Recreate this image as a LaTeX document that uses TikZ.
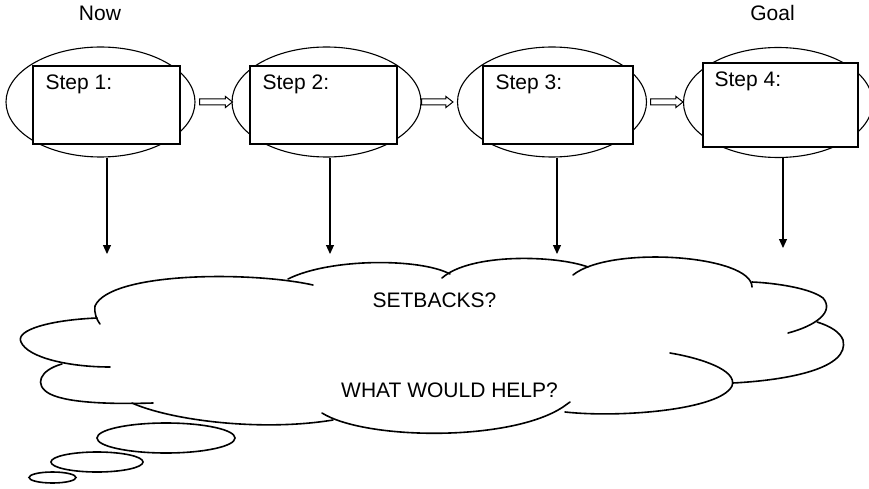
\documentclass[tikz,border=0pt]{standalone}
\usepackage{fontspec}
\setmainfont{Liberation Sans}
\usetikzlibrary{shapes.geometric,arrows.meta,calc}
\begin{document}
\begin{tikzpicture}[x=1pt,y=-1pt,
  every node/.style={font=\fontsize{21}{25}\selectfont, inner sep=0pt},
  stepoval/.style={ellipse, draw, line width=1.1pt, minimum width=189pt, minimum height=110pt},
  stepbox/.style={rectangle, draw, fill=white, line width=1.2pt, minimum width=147pt, minimum height=78pt},
  steplabel/.style={anchor=base west},
  flowarrow/.style={draw, fill=white, line width=1pt,
    to path={let \p1=(\tikztostart), \p2=(\tikztotarget) in
      (\x1,\y1+3pt) -- (\x2-7pt,\y1+3pt) -- (\x2-7pt,\y1+5.5pt) -- (\x2,\y1)
      -- (\x2-7pt,\y1-5.5pt) -- (\x2-7pt,\y1-3pt) -- (\x1,\y1-3pt) -- cycle}},
  droparrow/.style={line width=1.1pt, -{Triangle[length=9pt,width=8pt]}},
  cloudline/.style={line width=1.6pt, line cap=round},
]
\useasboundingbox (0,0) rectangle (869,489);

% headings
\node[anchor=base] (now) at (100,21) {Now};
\node[anchor=base] (goal) at (772.5,21) {Goal};

% the four steps: oval with a box on top
\node[stepoval] (o1) at (100.5,102) {};
\node[stepbox] (b1) at (106.5,105) {};
\node[stepoval] (o2) at (326.5,102) {};
\node[stepbox] (b2) at (323.5,105) {};
\node[stepoval] (o3) at (552,102) {};
\node[stepbox, minimum width=150pt] (b3) at (558,105) {};
\node[stepoval] (o4) at (778,102.5) {};
\node[stepbox, minimum width=155pt, minimum height=84pt] (b4) at (780.5,105) {};

\node[steplabel] (t1) at ([shift={(13,24)}]b1.north west) {Step 1:};
\node[steplabel] (t2) at ([shift={(13,24)}]b2.north west) {Step 2:};
\node[steplabel] (t3) at ([shift={(13,24)}]b3.north west) {Step 3:};
\node[steplabel] (t4) at ([shift={(12,24)}]b4.north west) {Step 4:};

% hollow arrows between the steps
\draw[flowarrow] ([xshift=4pt]o1.east) to ([xshift=1pt]o2.west);
\draw[flowarrow] ([xshift=0pt]o2.east) to ([xshift=-4pt]o3.west);
\draw[flowarrow] ([xshift=3.5pt]o3.east) to ([xshift=0pt]o4.west);

% arrows dropping into the cloud
\coordinate (d1) at (107,254);
\coordinate (d2) at (330,254);
\coordinate (d3) at (557,254);
\coordinate (d4) at (783,248);
\draw[droparrow] (o1.south -| d1) -- (d1);
\draw[droparrow] (o2.south -| d2) -- (d2);
\draw[droparrow] (o3.south -| d3) -- (d3);
\draw[droparrow] (o4.south -| d4) -- (d4);

% thought cloud, lobe by lobe
\draw[cloudline] (313,285) .. controls (250,271) and (110,272) .. (95,306)
                 .. controls (94,314) and (97,320) .. (100,324);
\draw[cloudline] (97,318) .. controls (50,320) and (15,330) .. (21,342)
                 .. controls (28,358) and (70,367) .. (110,367);
\draw[cloudline] (62,364) .. controls (40,370) and (33,385) .. (50,394)
                 .. controls (70,404) and (120,404) .. (153,403);
\draw[cloudline] (132,403) .. controls (170,420) and (260,432) .. (333,420);
\draw[cloudline] (322,413) .. controls (365,440) and (510,442) .. (563,407)
                 -- (570,402);
\draw[cloudline] (565,412) .. controls (620,418) and (720,410) .. (732,386)
                 .. controls (738,370) and (700,358) .. (670,353);
\draw[cloudline] (733,383) .. controls (790,380) and (850,368) .. (843,340)
                 .. controls (840,332) and (830,326) .. (817,322);
\draw[cloudline] (788,333) .. controls (815,326) and (835,312) .. (823,298)
                 .. controls (810,288) and (775,283) .. (752,282);
\draw[cloudline] (752,287) .. controls (752,255) and (610,245) .. (573,275);
\draw[cloudline] (588,267) .. controls (555,255) and (470,253) .. (442,278);
\draw[cloudline] (288,279) .. controls (330,258) and (420,258) .. (450,274);

% trailing bubbles
\draw[cloudline] (166,438) ellipse [x radius=69, y radius=15];
\draw[cloudline] (97,462) ellipse [x radius=46, y radius=10];
\draw[cloudline] (52.5,477.5) ellipse [x radius=23.5, y radius=5.5];

% questions inside the cloud
\node[anchor=base] (q1) at (434.5,307) {SETBACKS?};
\node[anchor=base] (q2) at (449.5,397) {WHAT WOULD HELP?};
\end{tikzpicture}
\end{document}
